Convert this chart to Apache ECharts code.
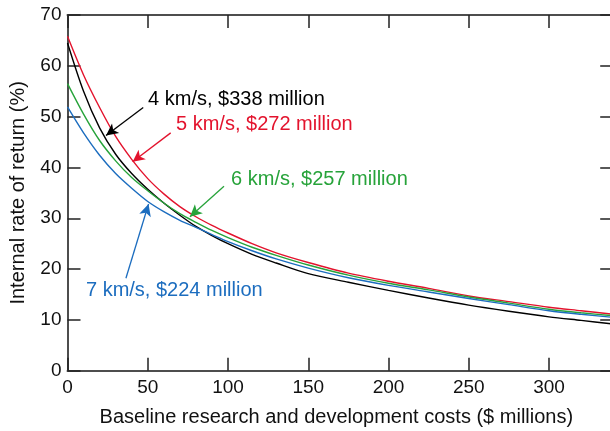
<!DOCTYPE html>
<html>
<head>
<meta charset="utf-8">
<script src="https://cdn.jsdelivr.net/npm/echarts@6/dist/echarts.min.js"></script>
<style>
html,body{margin:0;padding:0;background:#fff;overflow:hidden;width:610px;height:431px;}
#chart{width:620px;height:431px;}
</style>
</head>
<body>
<div id="chart"></div>
<script>
// Baseline R&D costs ($ millions)
const costs = [0, 10, 20, 30, 40, 50, 60, 70, 80, 90, 100, 115, 130, 150, 175, 200, 225, 250, 275, 300, 320, 340];
// Internal rate of return (%)
const irr4 = [64.5, 55.0, 47.8, 42.6, 38.8, 35.7, 33.0, 30.6, 28.4, 26.6, 25.0, 22.9, 21.2, 19.1, 17.4, 15.8, 14.3, 12.9, 11.7, 10.6, 9.9, 9.2];
const irr5 = [65.8, 58.2, 51.8, 46.1, 41.6, 37.8, 34.8, 32.3, 30.3, 28.6, 27.1, 25.0, 23.2, 21.3, 19.2, 17.6, 16.2, 14.7, 13.6, 12.5, 11.8, 11.1];
const irr6 = [56.5, 50.5, 45.3, 41.3, 38.0, 35.4, 33.0, 30.9, 29.2, 27.6, 26.2, 24.3, 22.7, 20.8, 18.8, 17.2, 15.9, 14.5, 13.3, 12.1, 11.4, 10.8];
const irr7 = [51.9, 46.8, 42.4, 38.8, 35.9, 33.3, 31.3, 29.6, 28.2, 26.8, 25.4, 23.6, 22.0, 20.2, 18.3, 16.8, 15.5, 14.2, 13.0, 11.8, 11.1, 10.5];

const seriesNames = ['4 km/s, $338 million', '5 km/s, $272 million', '6 km/s, $257 million', '7 km/s, $224 million'];
const seriesColors = ['#000000', '#e3132d', '#27a33a', '#1c6dbf'];
// annotation text anchor (left-middle) in data units
const labelAnchors = [[50.2, 53.3], [67.6, 48.4], [101.9, 37.6], [11.5, 15.7]];
// arrow start / tip in data units
const arrowStarts = [[47.2, 51.8], [64.3, 46.8], [97.5, 36.3], [36.4, 18.2]];
const arrowTips = [[24.0, 46.3], [40.6, 41.1], [76.3, 30.3], [50.5, 32.8]];

const xTicks = [0, 50, 100, 150, 200, 250, 300];
const yTicks = [0, 10, 20, 30, 40, 50, 60, 70];

const allValues = [irr4, irr5, irr6, irr7];
const font = 'Liberation Sans, Arial, Helvetica, sans-serif';

const axisLine = { show: true, onZero: false, lineStyle: { color: '#4d4d4d', width: 2 } };
const axisTick = { show: true, inside: true, length: 13, lineStyle: { color: '#222', width: 1.5 } };

const series = allValues.map((vals, i) => ({
  name: seriesNames[i],
  type: 'line',
  data: costs.map((c, j) => [c, vals[j]]),
  smooth: 0.3,
  showSymbol: false,
  lineStyle: { color: seriesColors[i], width: 1.4 },
  itemStyle: { color: seriesColors[i] },
  z: 3,
  markLine: {
    silent: true,
    symbol: ['none', 'arrow'],
    symbolSize: [9, 12],
    label: { show: false },
    lineStyle: { color: seriesColors[i], width: 1.3, type: 'solid' },
    data: [[{ coord: arrowStarts[i] }, { coord: arrowTips[i] }]]
  },
  markPoint: {
    silent: true,
    symbol: 'circle',
    symbolSize: 0,
    itemStyle: { color: 'transparent' },
    label: {
      show: true,
      position: 'right',
      distance: 0,
      color: seriesColors[i],
      fontFamily: font,
      fontSize: 20,
      formatter: seriesNames[i]
    },
    data: [{ coord: labelAnchors[i] }]
  }
}));

const chart = echarts.init(document.getElementById('chart'), null, { renderer: 'canvas' });
chart.setOption({
  animation: false,
  backgroundColor: '#fff',
  grid: { left: 67.5, top: 15, width: 545.7, height: 355.7, containLabel: false, outerBoundsMode: 'none' },
  xAxis: [{
    type: 'value', min: 0, max: 340, interval: 50,
    position: 'bottom',
    name: 'Baseline research and development costs ($ millions)',
    nameLocation: 'middle', nameGap: 37,
    nameTextStyle: { fontFamily: font, fontSize: 20, color: '#111', padding: [0, 8, 0, 0] },
    axisLine: axisLine,
    axisTick: axisTick,
    axisLabel: {
      margin: 8, fontFamily: font, fontSize: 19, color: '#111',
      showMaxLabel: false,
      formatter: v => xTicks.includes(v) ? String(v) : ''
    },
    splitLine: { show: false }
  }, {
    type: 'value', min: 0, max: 340, interval: 50,
    position: 'top',
    axisLine: axisLine,
    axisTick: axisTick,
    axisLabel: { show: false },
    splitLine: { show: false }
  }],
  yAxis: [{
    type: 'value', min: 0, max: 70, interval: 10,
    position: 'left',
    name: 'Internal rate of return (%)',
    nameLocation: 'middle', nameGap: 39, nameRotate: 90,
    nameTextStyle: { fontFamily: font, fontSize: 20, color: '#111' },
    axisLine: axisLine,
    axisTick: axisTick,
    axisLabel: {
      margin: 6, fontFamily: font, fontSize: 19, color: '#111',
      formatter: v => yTicks.includes(v) ? String(v) : ''
    },
    splitLine: { show: false }
  }, {
    type: 'value', min: 0, max: 70, interval: 10,
    position: 'right',
    axisLine: axisLine,
    axisTick: axisTick,
    axisLabel: { show: false },
    splitLine: { show: false }
  }],
  series: series
});
</script>
</body>
</html>
